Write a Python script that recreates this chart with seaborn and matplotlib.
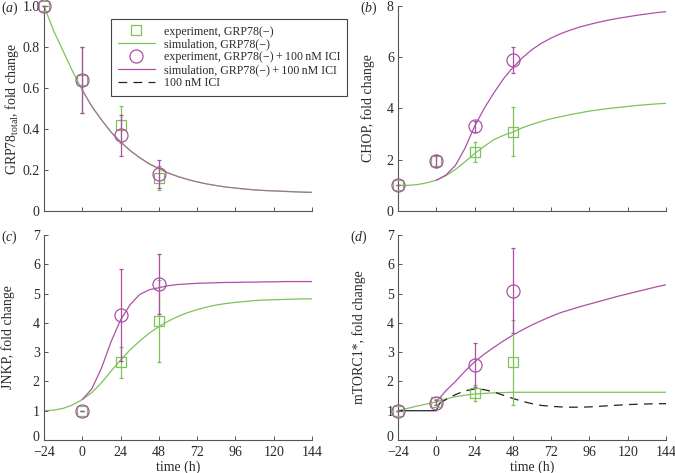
import numpy as np
import pandas as pd
import matplotlib
matplotlib.use("Agg")
import matplotlib.pyplot as plt
import matplotlib.transforms as mtransforms
from matplotlib.lines import Line2D
import seaborn as sns

# ---------------- data ----------------
time_sim = [-24, -18, -12, -6, 0, 6, 12, 18, 24, 30, 36, 42, 48, 54, 60, 66, 72,
            78, 84, 90, 96, 102, 108, 114, 120, 126, 132, 138, 144]
time_ici = [0, 6, 12, 18, 24, 30, 36, 42, 48, 54, 60, 66, 72,
            78, 84, 90, 96, 102, 108, 114, 120, 126, 132, 138, 144]
time_exp = [-24, 0, 24, 48]

# (a) GRP78 total
grp_sim_g = [1.0, 0.88, 0.78, 0.68, 0.59, 0.51, 0.445, 0.385, 0.337, 0.295, 0.26, 0.23,
             0.207, 0.185, 0.168, 0.154, 0.142, 0.132, 0.124, 0.117, 0.112, 0.107,
             0.103, 0.100, 0.098, 0.096, 0.094, 0.092, 0.091]
grp_sim_m = grp_sim_g[4:]
grp_exp_g = [1.0, 0.64, 0.42, 0.16]
grp_err_g = [0.0, 0.16, 0.09, 0.06]
grp_exp_m = [1.0, 0.64, 0.37, 0.18]
grp_err_m = [0.0, 0.16, 0.10, 0.07]

# (b) CHOP
chop_sim_g = [1.0, 1.0, 1.03, 1.1, 1.2, 1.38, 1.62, 1.92, 2.24, 2.52, 2.78, 2.95, 3.08,
              3.25, 3.38, 3.5, 3.6, 3.68, 3.76, 3.83, 3.9, 3.95, 4.0, 4.04, 4.08,
              4.12, 4.15, 4.18, 4.2]
chop_sim_m = [1.2, 1.4, 1.78, 2.45, 3.3, 4.0, 4.6, 5.15, 5.6, 5.98, 6.3, 6.55, 6.75,
              6.92, 7.06, 7.18, 7.28, 7.37, 7.45, 7.52, 7.58, 7.64, 7.69, 7.74, 7.78]
chop_exp_g = [1.0, 1.95, 2.3, 3.1]
chop_err_g = [0.0, 0.22, 0.4, 0.95]
chop_exp_m = [1.0, 1.95, 3.3, 5.9]
chop_err_m = [0.0, 0.22, 0.22, 0.5]

# (c) JNKP
jnk_sim_g = [1.0, 1.02, 1.08, 1.2, 1.38, 1.62, 1.95, 2.35, 2.73, 3.08, 3.38, 3.65, 3.87,
             4.06, 4.22, 4.35, 4.45, 4.54, 4.61, 4.66, 4.7, 4.73, 4.76, 4.78, 4.79,
             4.8, 4.81, 4.82, 4.82]
jnk_sim_m = [1.38, 1.75, 2.45, 3.35, 4.1, 4.62, 4.97, 5.13, 5.2, 5.27, 5.31, 5.33, 5.35,
             5.36, 5.37, 5.38, 5.38, 5.39, 5.39, 5.4, 5.4, 5.41, 5.41, 5.41, 5.41]
jnk_exp_g = [np.nan, 1.0, 2.65, 4.07]
jnk_err_g = [0.0, 0.0, 0.52, 1.4]
jnk_exp_m = [np.nan, 1.0, 4.27, 5.33]
jnk_err_m = [0.0, 0.0, 1.56, 1.02]

# (d) mTORC1*
mtor_sim_g = [1.0, 1.08, 1.16, 1.23, 1.3, 1.4, 1.48, 1.53, 1.57, 1.59, 1.61, 1.62, 1.63,
              1.63, 1.63, 1.63, 1.63, 1.63, 1.63, 1.63, 1.63, 1.63, 1.63, 1.63, 1.63,
              1.63, 1.63, 1.63, 1.63]
mtor_sim_m = [1.3, 1.68, 2.0, 2.35, 2.67, 2.93, 3.16, 3.38, 3.58, 3.76, 3.93, 4.08, 4.22,
              4.35, 4.45, 4.55, 4.64, 4.73, 4.82, 4.91, 4.99, 5.07, 5.15, 5.23, 5.3]
ici_time = [-24, 0, 2, 6, 12, 18, 24, 30, 36, 42, 48, 54, 60, 66, 72, 78, 84, 90, 96,
            102, 108, 114, 120, 126, 132, 138, 144]
ici_value = [1.0, 1.0, 1.25, 1.38, 1.55, 1.68, 1.74, 1.72, 1.64, 1.53, 1.42, 1.32, 1.24,
             1.18, 1.15, 1.13, 1.12, 1.12, 1.13, 1.15, 1.17, 1.19, 1.21, 1.22, 1.23,
             1.24, 1.24]
mtor_exp_g = [1.0, 1.3, 1.6, 2.65]
mtor_err_g = [0.0, 0.1, 0.27, 1.46]
mtor_exp_m = [1.0, 1.28, 2.57, 5.1]
mtor_err_m = [0.0, 0.1, 0.75, 1.45]

xticks = [-24, 0, 24, 48, 72, 96, 120, 144]
xtick_labels = ["\u221224", "0", "24", "48", "72", "96", "120", "144"]
labels = {
    "exp_g": "experiment, GRP78(\u2212)",
    "sim_g": "simulation, GRP78(\u2212)",
    "exp_m": "experiment, GRP78(\u2212)\u2009+\u2009100\u2009nM ICI",
    "sim_m": "simulation, GRP78(\u2212)\u2009+\u2009100\u2009nM ICI",
    "ici": "100 nM ICI",
}

# ---------------- style ----------------
FS_TICK = 10
FS_LABEL = 10
FS_LEG = 8.6
sns.set_theme(style="ticks")
plt.rcParams["font.family"] = ["Liberation Serif", "DejaVu Serif"]
plt.rcParams["mathtext.fontset"] = "custom"
plt.rcParams["mathtext.rm"] = "Liberation Serif"
plt.rcParams["mathtext.it"] = "Liberation Serif:italic"
plt.rcParams.update({
    "font.size": FS_TICK,
    "axes.edgecolor": "#555555",
    "axes.linewidth": 0.8,
    "axes.labelcolor": "#2a2a2a",
    "xtick.direction": "in",
    "ytick.direction": "in",
    "xtick.color": "#555555",
    "ytick.color": "#555555",
    "xtick.labelcolor": "#2a2a2a",
    "ytick.labelcolor": "#2a2a2a",
    "xtick.major.size": 3,
    "ytick.major.size": 3,
    "xtick.major.width": 0.7,
    "ytick.major.width": 0.7,
    "xtick.major.pad": 4.0,
    "ytick.major.pad": 3,
    "xtick.labelsize": FS_TICK,
    "ytick.labelsize": FS_TICK,
    "axes.labelsize": FS_LABEL,
})

GREEN = "#7cc35a"
MAG = "#ad4fa6"

fig = plt.figure(figsize=(6.75, 4.73), dpi=100)
W, H = 675, 473


def add_axes(l, r, t, b):
    return fig.add_axes([l / W, 1 - b / H, (r - l) / W, (b - t) / H])


axA = add_axes(44, 312, 6, 211)
axB = add_axes(398, 666, 6, 211)
axC = add_axes(44, 312, 235, 440)
axD = add_axes(398, 666, 235, 440)


def draw(ax, sim_g, sim_m, exp_g, err_g, exp_m, err_m, blend=False):
    sns.lineplot(x=time_sim, y=sim_g, ax=ax, color=GREEN, lw=0.9, legend=False)
    sns.lineplot(x=time_ici, y=sim_m, ax=ax, color=MAG, lw=0.9, legend=False,
                 alpha=0.65 if blend else 1.0)
    ax.errorbar(time_exp, exp_g, yerr=err_g, fmt="s", ms=7.2, mfc="none", mec=GREEN,
                mew=0.9, ecolor=GREEN, elinewidth=0.9, capsize=1.5, capthick=0.8,
                clip_on=False, zorder=4)
    ax.errorbar(time_exp, exp_m, yerr=err_m, fmt="o", ms=9.4, mfc="none", mec=MAG,
                mew=0.9, ecolor=MAG, elinewidth=0.9, capsize=1.5, capthick=0.8,
                clip_on=False, zorder=5)
    ax.set_xlim(-24, 144)
    ax.set_xticks(xticks)
    sns.despine(ax=ax)


draw(axA, grp_sim_g, grp_sim_m, grp_exp_g, grp_err_g, grp_exp_m, grp_err_m, blend=True)
draw(axB, chop_sim_g, chop_sim_m, chop_exp_g, chop_err_g, chop_exp_m, chop_err_m)
draw(axC, jnk_sim_g, jnk_sim_m, jnk_exp_g, jnk_err_g, jnk_exp_m, jnk_err_m)
draw(axD, mtor_sim_g, mtor_sim_m, mtor_exp_g, mtor_err_g, mtor_exp_m, mtor_err_m)

# ICI line in (d)
ici = pd.DataFrame({"t": ici_time, "v": ici_value})
sns.lineplot(data=ici[ici.t <= 2], x="t", y="v", ax=axD, color="#222222", lw=0.9,
             legend=False)
sns.lineplot(data=ici[ici.t >= 2], x="t", y="v", ax=axD, color="#222222", lw=0.9,
             legend=False, dashes=False, linestyle=(0, (7, 5)))

axA.set_ylim(0, 1.0)
axA.set_yticks([0, 0.2, 0.4, 0.6, 0.8, 1.0])
axA.set_yticklabels(["0", "0.2", "0.4", "0.6", "0.8", "1.0"])
axB.set_ylim(0, 8)
axB.set_yticks([0, 2, 4, 6, 8])
for ax in (axC, axD):
    ax.set_ylim(0, 7)
    ax.set_yticks(range(8))

for ax in (axA, axB):
    ax.set_xticklabels([])
    ax.set_xlabel("")
for ax in (axC, axD):
    ax.set_xticklabels(xtick_labels)
    ax.set_xlabel("time (h)")
    ax.xaxis.set_label_coords(0.5, -0.099)
    # lift the "0" y tick label a little so it clears the "-24" x tick label
    lbl0 = ax.get_yticklabels()[0]
    lbl0.set_transform(lbl0.get_transform() +
                       mtransforms.ScaledTranslation(0, 3 / 72, fig.dpi_scale_trans))

axA.set_ylabel(r"GRP78$_{\mathrm{total}}$, fold change")
axB.set_ylabel("CHOP, fold change")
axC.set_ylabel("JNKP, fold change")
axD.set_ylabel("mTORC1*, fold change")
axA.yaxis.set_label_coords((21 - 44) / 268, 0.5)
axB.yaxis.set_label_coords((375 - 398) / 268, 0.5)
axC.yaxis.set_label_coords((15 - 44) / 268, 0.5)
axD.yaxis.set_label_coords((366 - 398) / 268, 0.5)

for x, y, letter in [(1, 8, "a"), (360, 8, "b"), (1, 237, "c"), (350, 237, "d")]:
    fig.text(x / W, 1 - y / H, "(" + r"$\mathit{" + letter + "}$" + ")", fontsize=FS_LABEL,
             va="center", ha="left", color="#2a2a2a")

handles = [
    Line2D([], [], ls="none", marker="s", ms=7.2, mfc="none", mec=GREEN, mew=0.9),
    Line2D([], [], color=GREEN, lw=0.9),
    Line2D([], [], ls="none", marker="o", ms=9.4, mfc="none", mec=MAG, mew=0.9),
    Line2D([], [], color=MAG, lw=0.9),
    Line2D([], [], color="#222222", lw=0.9, ls=(0, (7, 5))),
]
leg = fig.legend(handles, [labels[k] for k in ["exp_g", "sim_g", "exp_m", "sim_m", "ici"]],
                 loc="upper left", bbox_to_anchor=(111 / W, 1 - 19 / H),
                 frameon=True, fancybox=False, edgecolor="#444444", framealpha=1,
                 fontsize=FS_LEG, handlelength=3.1, handletextpad=0.75,
                 labelspacing=0.08, borderpad=0.55, borderaxespad=0)
leg.get_frame().set_linewidth(0.8)
for t in leg.get_texts():
    t.set_color("#2a2a2a")

fig.savefig("out.png", dpi=100)
